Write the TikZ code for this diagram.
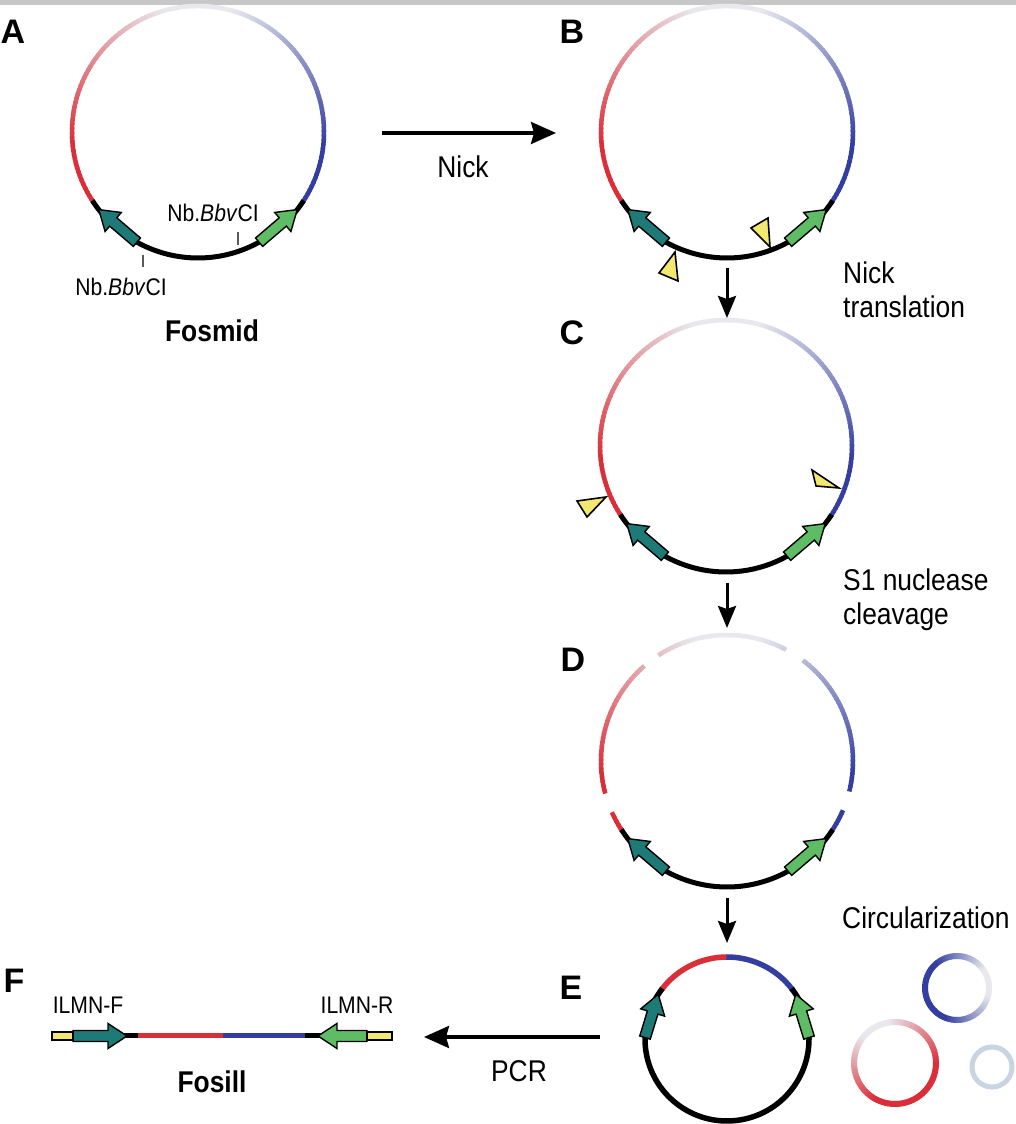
\documentclass[tikz,border=0pt]{standalone}
\usepackage{fontspec}
\setmainfont{Liberation Sans}[FakeStretch=0.88]
\newfontfamily\panelfont{Liberation Sans}
\usetikzlibrary{arrows.meta}
\definecolor{myred}{RGB}{218,46,56}
\definecolor{myblue}{RGB}{52,62,160}
\definecolor{topgray}{RGB}{232,232,237}
\definecolor{teal1}{RGB}{30,122,118}
\definecolor{green1}{RGB}{94,188,100}
\definecolor{yell}{RGB}{242,232,112}
\definecolor{pale}{RGB}{200,212,226}

% gradient arc: cx cy r a1 a2 colour angle(100%) angle(0%)
\newcommand\garc[8]{%
  \pgfmathtruncatemacro\gN{max(1,round(((#5)-(#4))/2))}%
  \foreach \gi in {1,...,\gN}{%
    \pgfmathsetmacro\gA{(#4)+((#5)-(#4))*(\gi-1)/\gN}%
    \pgfmathsetmacro\gB{(#4)+((#5)-(#4))*\gi/\gN}%
    \pgfmathsetmacro\gBx{\gi<\gN ? \gB+0.8 : \gB}%
    \pgfmathsetmacro\gM{(\gA+\gB)/2}%
    \pgfmathtruncatemacro\gP{max(0,min(100,(\gM-(#8))/((#7)-(#8))*100))}%
    \draw[arcline, draw=#6!\gP!topgray] ([shift={(\gA:#3)}]#1,#2) arc[start angle=\gA, end angle=\gBx, radius=#3];
  }}
% gradient ring: cx cy r colour fadecentre d0 d1 linewidth
\newcommand\gring[8]{%
  \foreach \gi in {0,...,89}{%
    \pgfmathsetmacro\gA{\gi*4}%
    \pgfmathsetmacro\gM{\gA+2}%
    \pgfmathsetmacro\gX{mod(\gM-(#5)+720,360)}%
    \pgfmathsetmacro\gD{min(\gX,360-\gX)}%
    \pgfmathtruncatemacro\gP{max(0,min(100,(\gD-(#6))/((#7)-(#6))*100))}%
    \draw[line width=#8, draw=#4!\gP!topgray] ([shift={(\gA:#3)}]#1,#2) arc[start angle=\gA, end angle=\gA+4.8, radius=#3];
  }}
% block arrow from (x1,y1) to (x2,y2)
\newcommand\barrowxy[5]{%
  \pgfmathsetmacro\bang{atan2((#4)-(#2),(#3)-(#1))}%
  \pgfmathsetmacro\blen{veclen((#3)-(#1),(#4)-(#2))}%
  \begin{scope}[shift={(#1,#2)}, rotate=\bang]
    \draw[blockarrow, fill=#5] (0,-5.5) -- (\blen-19,-5.5) -- (\blen-19,-12.5) -- (\blen,0) -- (\blen-19,12.5) -- (\blen-19,5.5) -- (0,5.5) -- cycle;
  \end{scope}}
% block arrow along circle: cx cy r atail atip colour
\newcommand\barrowc[6]{%
  \pgfmathsetmacro\bxa{(#1)+(#3)*cos(#4)}\pgfmathsetmacro\bya{(#2)+(#3)*sin(#4)}%
  \pgfmathsetmacro\bxb{(#1)+(#3)*cos(#5)}\pgfmathsetmacro\byb{(#2)+(#3)*sin(#5)}%
  \barrowxy{\bxa}{\bya}{\bxb}{\byb}{#6}}
\newcommand\redarc[4]{\garc{#1}{#2}{126}{#3}{#4}{myred}{185}{105}}
\newcommand\bluearc[4]{\garc{#1}{#2}{126}{#3}{#4}{myblue}{-5}{75}}
\newcommand\blackbottom[2]{%
  \draw[blackarc] ([shift={(213:126)}]#1,#2) arc[start angle=213,end angle=327,radius=126];
  \barrowc{#1}{#2}{126}{241}{218}{teal1}%
  \barrowc{#1}{#2}{126}{299}{322}{green1}}
\newcommand\plasmid[2]{%
  \redarc{#1}{#2}{90}{214}\bluearc{#1}{#2}{-34}{90}\blackbottom{#1}{#2}}

\begin{document}
\begin{tikzpicture}[x=1pt,y=1pt,
  arcline/.style={line width=4.5pt, line cap=butt},
  blackarc/.style={line width=5pt, draw=black, line cap=butt},
  blockarrow/.style={draw=black, line width=1.4pt, line join=miter},
  tri/.style={draw=black, line width=1.6pt, fill=yell, line join=miter},
  flow/.style={line width=3.5pt, -{Stealth[length=25pt,width=22pt,inset=3pt]}},
  vflow/.style={line width=3pt, -{Stealth[length=22pt,width=18pt,inset=3pt]}},
  steplabel/.style={font=\fontsize{30}{34}\selectfont, align=left, anchor=west, inner sep=0pt},
  arrlabel/.style={font=\fontsize{30}{34}\selectfont, inner sep=0pt},
  smalllabel/.style={font=\fontsize{24}{28}\selectfont, inner sep=0pt},
  titlelabel/.style={font=\fontsize{30}{34}\selectfont\bfseries, inner sep=0pt},
  panel/.style={font=\panelfont\fontsize{34}{36}\selectfont\bfseries, inner sep=0pt},
  tick/.style={draw=black!65, line width=1.3pt}]
\useasboundingbox (0,0) rectangle (1016,1124);
\fill[white] (0,0) rectangle (1016,1124);
\fill[black!22] (0,1119) rectangle (1016,1124);

% ---- panel A
\plasmid{198}{992}
\draw[tick] (143,869) -- (143,857);
\draw[tick] (238,879) -- (238,892);
\node[smalllabel] (nbA1) at (213,911) {Nb.\textit{Bbv}CI};
\node[smalllabel] (nbA2) at (121,837) {Nb.\textit{Bbv}CI};
\node[titlelabel] (fosmid) at (212,793) {Fosmid};
\node[panel] (lA) at (13,1092) {A};

% ---- panel B
\plasmid{727}{992}
\draw[tri] (659,851) -- (678,843) -- (675,872) -- cycle;
\draw[tri] (751,896) -- (768,906) -- (770,877) -- cycle;
\node[panel] (lB) at (572,1092) {B};

% ---- panel C
\plasmid{726}{678}
\draw[tri] (577,623) -- (587,607) -- (606,627) -- cycle;
\draw[tri] (812,654) -- (816,638) -- (839,636) -- cycle;
\node[panel] (lC) at (572,791) {C};

% ---- panel D
\redarc{727}{363}{90}{123}
\bluearc{727}{363}{62}{90}
\redarc{727}{363}{131}{195}
\redarc{727}{363}{204}{214}
\bluearc{727}{363}{-14}{53}
\bluearc{727}{363}{-34}{-23}
\blackbottom{727}{363}
\node[panel] (lD) at (573,464) {D};

% ---- panel E
\draw[line width=5.5pt, myred, line cap=butt] ([shift={(90:82)}]727,85) arc[start angle=90,end angle=143,radius=82];
\draw[line width=5.5pt, myblue, line cap=butt] ([shift={(37:82)}]727,85) arc[start angle=37,end angle=90.5,radius=82];
\draw[line width=5.5pt, black, line cap=butt] ([shift={(142:82)}]727,85) arc[start angle=142,end angle=398,radius=82];
\barrowc{727}{85}{82}{179}{147}{teal1}
\barrowc{727}{85}{82}{1}{33}{green1}
\node[panel] (lE) at (571,136) {E};
\gring{957}{136}{32}{myblue}{10}{25}{120}{6pt}
\gring{895}{61}{41}{myred}{120}{20}{120}{6pt}
\draw[line width=5pt, pale] (992,57) circle[radius=20];

% ---- panel F
\draw[line width=5pt, black] (120,88) -- (325,88);
\draw[line width=5pt, myred] (138,88) -- (223,88);
\draw[line width=5pt, myblue] (223,88) -- (305,88);
\barrowxy{73}{88}{127}{88}{teal1}
\barrowxy{367}{88}{318}{88}{green1}
\draw[draw=black, line width=1.8pt, fill=yell] (52,84) rectangle (73,92);
\draw[draw=black, line width=1.8pt, fill=yell] (367,84) rectangle (392,92);
\node[smalllabel] (ilmnf) at (88,119) {ILMN-F};
\node[smalllabel] (ilmnr) at (357,119) {ILMN-R};
\node[titlelabel] (fosill) at (212,42) {Fosill};
\node[panel] (lF) at (14,143) {F};

% ---- process arrows and labels
\coordinate (nickS) at (382,991);
\coordinate (nickE) at (556,991);
\draw[flow] (nickS) -- (nickE);
\node[arrlabel] (nick) at (463,957) {Nick};
\coordinate (pcrS) at (600,87);
\coordinate (pcrE) at (424,87);
\draw[flow] (pcrS) -- (pcrE);
\node[arrlabel] (pcr) at (519,53) {PCR};
\coordinate (bc1) at (727,856);
\coordinate (bc2) at (727,806);
\draw[vflow] (bc1) -- (bc2);
\coordinate (cd1) at (727,541);
\coordinate (cd2) at (727,496);
\draw[vflow] (cd1) -- (cd2);
\coordinate (de1) at (727,226);
\coordinate (de2) at (727,181);
\draw[vflow] (de1) -- (de2);
\node[steplabel] (s1) at (843,834) {Nick\\translation};
\node[steplabel] (s2) at (843,524) {S1 nuclease\\cleavage};
\node[steplabel] (s3) at (842,206) {Circularization};
\end{tikzpicture}
\end{document}
